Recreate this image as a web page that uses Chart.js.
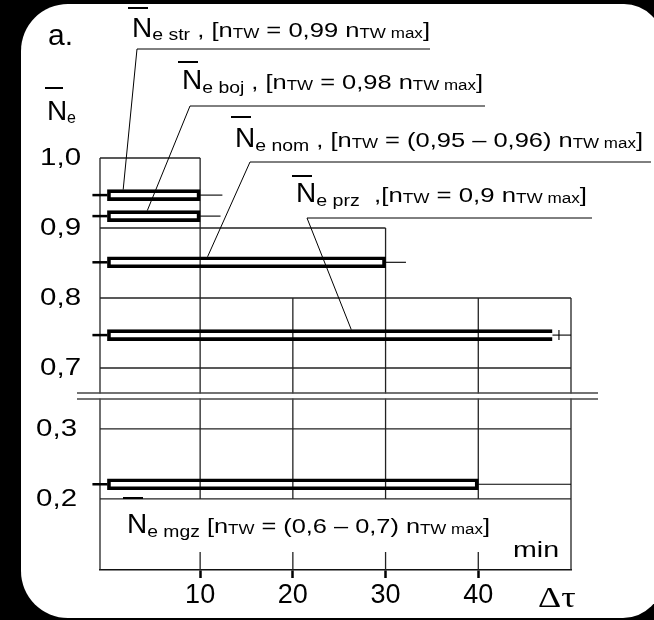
<!DOCTYPE html>
<html>
<head>
<meta charset="utf-8">
<script src="https://cdn.jsdelivr.net/npm/chart.js@4"></script>
<style>
  html, body { margin: 0; background: #000; }
  canvas { display: block; }
</style>
</head>
<body>
<canvas id="chart" width="654" height="620"></canvas>
<script>
// time axis (min) and load axis ticks (upper and lower part of the broken axis)
const timeTicks = [10, 20, 30, 40];
const loadTicksTop = [0.7, 0.8, 0.9, 1.0];
const loadTicksBottom = [0.2, 0.3];
const breakTop = 0.66;     // upper part starts here
const breakBottom = 0.347; // lower part ends here

// permissible load vs. time (stepped envelope)
const limitLoad = [1.0, 0.9, 0.8];
const limitTime = [10, 30, 50];

// operating modes
const modes = ['str', 'boj', 'nom', 'prz', 'mgz'];
const modePanel = ['top', 'top', 'top', 'top', 'bottom'];
const modeLoad = [0.947, 0.917, 0.851, 0.747, 0.221];
const modeTime = [10, 10, 30, 48, 40];
const modeTail = [12.4, 12.2, 32.2, 50, 50];

const SANS = '"Liberation Sans", Arial, sans-serif';
const SERIF = '"Liberation Serif", "Times New Roman", serif';

function barData(panel) {
  return modes
    .map((m, i) => modePanel[i] === panel ? { x: [0, modeTime[i]], y: modeLoad[i], mode: m } : null)
    .filter(Boolean);
}

// label layout (pixels) for the annotations
const notes = [
  { mode: 'str', at: 1.7, knee: [137, 49], end: 430, x: 132, base: 36.5, width: 298, over: 8,
    parts: [['N', 28], ['e str', 16, 3.5], [' , [n', 21], ['TW', 14, 1], [' = 0,99 n', 21], ['TW max', 14, 1], [']', 21]] },
  { mode: 'boj', at: 4.3, knee: [190, 106], end: 485, x: 182, base: 89, width: 301, over: 62,
    parts: [['N', 28], ['e boj', 16, 3.5], [' , [n', 21], ['TW', 14, 1], [' = 0,98 n', 21], ['TW max', 14, 1], [']', 21]] },
  { mode: 'nom', at: 10.8, knee: [250, 162], end: 651, x: 235, base: 147, width: 408, over: 117,
    parts: [['N', 28], ['e nom', 16, 3.5], [' , [n', 21], ['TW', 14, 1], [' = (0,95 – 0,96) n', 21], ['TW max', 14, 1], [']', 21]] },
  { mode: 'prz', at: 26.3, knee: [307, 218], end: 592, x: 296, base: 202, width: 291, over: 176,
    parts: [['N', 28], ['e prz', 16, 3.5], ['  ,[n', 21], ['TW', 14, 1], [' = 0,9 n', 21], ['TW max', 14, 1], [']', 21]] },
  { mode: 'mgz', x: 127, base: 533, width: 363, over: 498,
    parts: [['N', 28], ['e mgz', 16, 3.5], [' [n', 21], ['TW', 14, 1], [' = (0,6 – 0,7) n', 21], ['TW max', 14, 1], [']', 21]] }
];

function line(ctx, x1, y1, x2, y2) {
  ctx.beginPath();
  ctx.moveTo(x1, y1);
  ctx.lineTo(x2, y2);
  ctx.stroke();
}

// first part (the N) drawn as is, the rest fitted to the width
function rich(ctx, parts, x, base, width) {
  ctx.fillStyle = '#000';
  ctx.textBaseline = 'alphabetic';
  ctx.textAlign = 'left';
  ctx.font = parts[0][1] + 'px ' + SANS;
  const headW = ctx.measureText(parts[0][0]).width;
  ctx.fillText(parts[0][0], x, base);
  let w = 0;
  parts.slice(1).forEach(p => { ctx.font = p[1] + 'px ' + SANS; p.w = ctx.measureText(p[0]).width; w += p.w; });
  const k = (width - headW) / w;
  ctx.save();
  ctx.translate(x + headW, base);
  ctx.scale(k, 1);
  let cx = 0;
  parts.slice(1).forEach(p => {
    ctx.font = p[1] + 'px ' + SANS;
    ctx.fillText(p[0], cx, p[2] || 0);
    cx += p.w;
  });
  ctx.restore();
}

function stretched(ctx, text, font, x, base, sx, align) {
  ctx.font = font;
  const w = ctx.measureText(text).width * sx;
  ctx.save();
  ctx.translate(align === 'right' ? x - w : x, base);
  ctx.scale(sx, 1);
  ctx.textAlign = 'left';
  ctx.textBaseline = 'alphabetic';
  ctx.fillStyle = '#000';
  ctx.fillText(text, 0, 0);
  ctx.restore();
}

const figure = {
  id: 'figure',
  beforeDraw(chart) {
    const ctx = chart.ctx;
    ctx.save();
    ctx.fillStyle = '#000';
    ctx.fillRect(0, 0, chart.width, chart.height);
    ctx.fillStyle = '#fff';
    ctx.beginPath();
    ctx.roundRect(21, 4, 642, 614, [47, 39, 40, 47]);
    ctx.fill();
    ctx.restore();
  },
  beforeDatasetsDraw(chart) {
    const ctx = chart.ctx;
    const xs = chart.scales.x, yt = chart.scales.yTop, yb = chart.scales.yBot;
    const X = v => xs.getPixelForValue(v);
    const YT = v => yt.getPixelForValue(v);
    const YB = v => yb.getPixelForValue(v);
    const x0 = xs.left, x1 = xs.right;
    const topEnd = YT(breakTop), lowStart = YB(breakBottom), bottom = YB(yb.min);
    ctx.save();
    ctx.strokeStyle = '#222';
    ctx.lineWidth = 1.3;
    // left axis
    line(ctx, x0, YT(yt.max), x0, bottom);
    // envelope boxes
    limitLoad.forEach((v, i) => {
      line(ctx, x0, YT(v), X(limitTime[i]), YT(v));
      line(ctx, X(limitTime[i]), YT(v), X(limitTime[i]), topEnd);
    });
    const lowLimit = Math.min(...limitLoad), longest = Math.max(...limitTime);
    loadTicksTop.filter(v => !limitLoad.includes(v)).forEach(v => line(ctx, x0, YT(v), X(longest), YT(v)));
    timeTicks.filter(t => !limitTime.includes(t)).forEach(t => line(ctx, X(t), YT(lowLimit), X(t), topEnd));
    // lower part
    loadTicksBottom.forEach(v => line(ctx, x0, YB(v), x1, YB(v)));
    const lowTick = Math.min(...loadTicksBottom);
    timeTicks.forEach(t => {
      line(ctx, X(t), lowStart, X(t), YB(lowTick));
      line(ctx, X(t), bottom - 18, X(t), bottom);
    });
    line(ctx, x1, lowStart, x1, bottom);
    // axis break
    const yBreak = (topEnd + lowStart) / 2;
    ctx.fillStyle = '#fff';
    ctx.fillRect(x0 - 30, yBreak - 2.5, x1 - x0 + 60, 5);
    ctx.strokeStyle = '#444';
    line(ctx, 77, yBreak - 3, 598, yBreak - 3);
    line(ctx, 77, yBreak + 3, 598, yBreak + 3);
    ctx.restore();
  },
  afterDatasetsDraw(chart) {
    const ctx = chart.ctx;
    const xs = chart.scales.x, yt = chart.scales.yTop, yb = chart.scales.yBot;
    const X = v => xs.getPixelForValue(v);
    const yOf = i => (modePanel[i] === 'top' ? yt : yb).getPixelForValue(modeLoad[i]);
    ctx.save();
    ctx.strokeStyle = '#000';
    // whiskers
    modes.forEach((m, i) => {
      const y = yOf(i);
      ctx.lineWidth = 2.5;
      line(ctx, X(0) - 15, y, X(0), y);
      ctx.lineWidth = 1.1;
      line(ctx, X(modeTime[i]), y, X(modeTail[i]), y);
      if (m === 'prz') line(ctx, X(48.7), y - 5, X(48.7), y + 5);
    });
    // leaders and labels
    notes.forEach(n => {
      const i = modes.indexOf(n.mode);
      if (n.knee) {
        ctx.lineWidth = 1;
        ctx.beginPath();
        ctx.moveTo(X(n.at), yOf(i) - 5.5);
        ctx.lineTo(n.knee[0], n.knee[1]);
        ctx.lineTo(n.end, n.knee[1]);
        ctx.stroke();
      }
      rich(ctx, n.parts, n.x, n.base, n.width);
      ctx.fillStyle = '#000';
      ctx.fillRect(n.x - 4, n.over - 1, 20, 2);
    });
    // y tick labels
    [[yt, 81], [yb, 77]].forEach(([s, right]) => s.ticks.forEach(t => {
      stretched(ctx, t.value.toFixed(1).replace('.', ','), '23px ' + SANS, right, s.getPixelForValue(t.value) + 7, 1.28, 'right');
    }));
    // axis titles
    ctx.fillStyle = '#000';
    ctx.font = '28px ' + SANS;
    ctx.fillText('N', 47, 120);
    ctx.font = '16px ' + SANS;
    ctx.fillText('e', 67, 123);
    ctx.fillRect(45, 87, 18, 2);
    ctx.font = '30px ' + SANS;
    ctx.fillText('a.', 48, 45);
    stretched(ctx, 'min', '22px ' + SANS, 513, 557, 1.3, 'left');
    stretched(ctx, 'Δτ', '30px ' + SERIF, 538, 607, 1.2, 'left');
    ctx.restore();
  }
};

// both load axes span the whole plot height at the same scale (700 px per 1.0);
// each part is only drawn in its own band
new Chart(document.getElementById('chart'), {
  type: 'bar',
  data: {
    datasets: [
      { data: barData('top'), yAxisID: 'yTop' },
      { data: barData('bottom'), yAxisID: 'yBot' }
    ]
  },
  options: {
    responsive: false,
    animation: false,
    indexAxis: 'y',
    grouped: false,
    barThickness: 11,
    borderWidth: 3,
    borderColor: '#000',
    backgroundColor: 'rgba(0,0,0,0)',
    borderSkipped: c => (c.raw && c.raw.mode === 'prz') ? 'right' : false,
    layout: { padding: { top: 158, right: 83, left: 0, bottom: 0 } },
    plugins: { legend: { display: false }, tooltip: { enabled: false } },
    scales: {
      x: {
        type: 'linear', min: -0.8, max: 50, offset: false,
        afterBuildTicks: s => { s.ticks = timeTicks.map(v => ({ value: v })); },
        afterFit: s => { s.height = 50; },
        grid: { drawOnChartArea: false, drawTicks: true, tickLength: 8, tickWidth: 2.5, tickColor: '#000' },
        border: { display: true, color: '#111', width: 1.4 },
        ticks: { font: { family: SANS, size: 27 }, color: '#000', padding: 1, maxRotation: 0, autoSkip: false }
      },
      yTop: {
        type: 'linear', position: 'left', min: 0.4114, max: 1.0, offset: false,
        afterBuildTicks: s => { s.ticks = loadTicksTop.map(v => ({ value: v })); },
        afterFit: s => { s.width = 100; },
        grid: { display: false }, border: { display: false }, ticks: { display: false }
      },
      yBot: {
        type: 'linear', position: 'left', display: false, min: 0.0985, max: 0.6871, offset: false,
        afterBuildTicks: s => { s.ticks = loadTicksBottom.map(v => ({ value: v })); }
      }
    }
  },
  plugins: [figure]
});
</script>
</body>
</html>
